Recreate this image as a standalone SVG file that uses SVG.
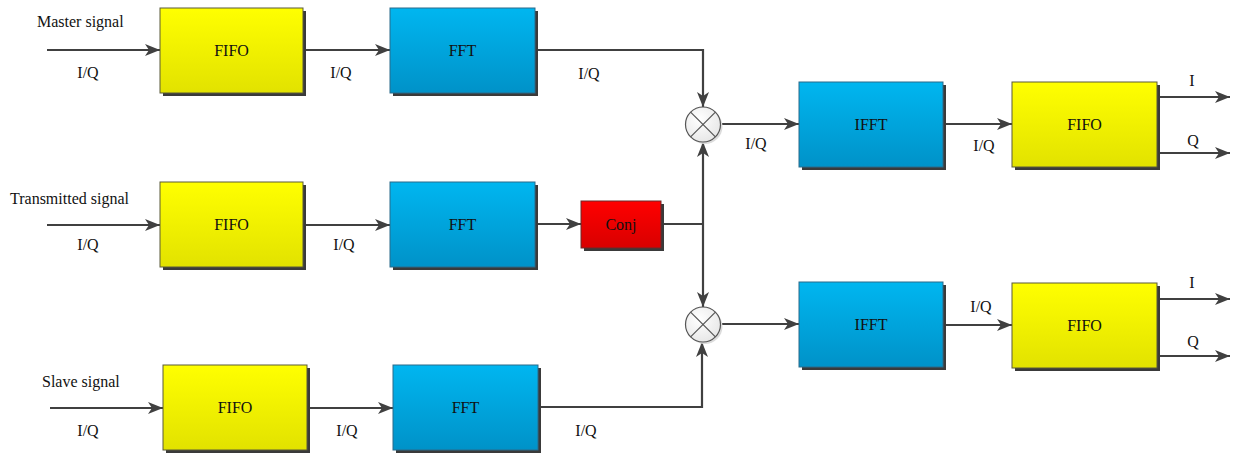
<svg xmlns="http://www.w3.org/2000/svg" width="1236" height="454" viewBox="0 0 1236 454">
  <defs>
    <linearGradient id="gYellow" x1="0" y1="0" x2="0" y2="1">
      <stop offset="0" stop-color="#ffff00"/>
      <stop offset="1" stop-color="#e2e200"/>
    </linearGradient>
    <linearGradient id="gBlue" x1="0" y1="0" x2="0" y2="1">
      <stop offset="0" stop-color="#00b6f0"/>
      <stop offset="1" stop-color="#0092c8"/>
    </linearGradient>
    <linearGradient id="gRed" x1="0" y1="0" x2="0" y2="1">
      <stop offset="0" stop-color="#ff0000"/>
      <stop offset="1" stop-color="#d80000"/>
    </linearGradient>
    <radialGradient id="gMix" cx="0.4" cy="0.35" r="0.7">
      <stop offset="0" stop-color="#ffffff"/>
      <stop offset="1" stop-color="#e6e6e6"/>
    </radialGradient>
    <marker id="arr" markerWidth="16" markerHeight="12" refX="15" refY="6" orient="auto" markerUnits="userSpaceOnUse">
      <path d="M0,0 L15,6 L0,12 L4,6 Z" fill="#404040"/>
    </marker>
  </defs>
  <style>
    text { font-family: "Liberation Serif", "Times New Roman", serif; font-size: 16px; fill: #111; }
    .c { text-anchor: middle; }
    .box { stroke: #5a5a3a; stroke-width: 1; }
    .bbox { stroke: #2a6a8a; stroke-width: 1; }
    .shadow { fill: #3a3a3a; }
    .wire { fill: none; stroke: #404040; stroke-width: 2.2; }
    .mix { fill: url(#gMix); stroke: #555; stroke-width: 1.2; }
    .x { stroke: #555; stroke-width: 1.2; }
  </style>

  <!-- input labels -->
  <text x="37" y="27">Master signal</text>
  <text x="10" y="204">Transmitted signal</text>
  <text x="42" y="387">Slave signal</text>

  <!-- connectors -->
  <g id="connectors">
    <path class="wire" d="M47,50 H160" marker-end="url(#arr)"/>
    <path class="wire" d="M303,50 H390" marker-end="url(#arr)"/>
    <path class="wire" d="M535,50 H703 V107" marker-end="url(#arr)"/>

    <path class="wire" d="M47,225 H160" marker-end="url(#arr)"/>
    <path class="wire" d="M303,225 H390" marker-end="url(#arr)"/>
    <path class="wire" d="M535,224 H581" marker-end="url(#arr)"/>
    <path class="wire" d="M661,224 H703"/>
    <path class="wire" d="M703,224 V142" marker-end="url(#arr)"/>
    <path class="wire" d="M703,224 V307" marker-end="url(#arr)"/>

    <path class="wire" d="M50,408 H163" marker-end="url(#arr)"/>
    <path class="wire" d="M307,408 H393" marker-end="url(#arr)"/>
    <path class="wire" d="M538,407 H702 V342" marker-end="url(#arr)"/>

    <path class="wire" d="M720,124 H799" marker-end="url(#arr)"/>
    <path class="wire" d="M943,124 H1012" marker-end="url(#arr)"/>
    <path class="wire" d="M1157,97 H1230" marker-end="url(#arr)"/>
    <path class="wire" d="M1157,153 H1230" marker-end="url(#arr)"/>

    <path class="wire" d="M720,324 H799" marker-end="url(#arr)"/>
    <path class="wire" d="M943,325 H1012" marker-end="url(#arr)"/>
    <path class="wire" d="M1157,299 H1230" marker-end="url(#arr)"/>
    <path class="wire" d="M1157,356 H1230" marker-end="url(#arr)"/>
  </g>

  <!-- connector labels -->
  <g id="labels">
    <text class="c" x="88" y="78">I/Q</text>
    <text class="c" x="341" y="78">I/Q</text>
    <text class="c" x="589" y="79">I/Q</text>
    <text class="c" x="88" y="250">I/Q</text>
    <text class="c" x="344" y="250">I/Q</text>
    <text class="c" x="88" y="436">I/Q</text>
    <text class="c" x="347" y="436">I/Q</text>
    <text class="c" x="586" y="436">I/Q</text>
    <text class="c" x="756" y="149">I/Q</text>
    <text class="c" x="984" y="151">I/Q</text>
    <text class="c" x="981" y="312">I/Q</text>
    <text class="c" x="1192" y="86">I</text>
    <text class="c" x="1193" y="146">Q</text>
    <text class="c" x="1192" y="288">I</text>
    <text class="c" x="1193" y="347">Q</text>
  </g>

  <!-- row 1 -->
  <g id="fifo1">
    <rect class="shadow" x="163" y="11" width="143" height="85"/>
    <rect class="box" x="160" y="8" width="143" height="85" fill="url(#gYellow)"/>
    <text class="c" x="231.5" y="56">FIFO</text>
  </g>
  <g id="fft1">
    <rect class="shadow" x="393" y="11" width="145" height="85"/>
    <rect class="bbox" x="390" y="8" width="145" height="85" fill="url(#gBlue)"/>
    <text class="c" x="462.5" y="56">FFT</text>
  </g>

  <!-- row 2 -->
  <g id="fifo2">
    <rect class="shadow" x="163" y="185" width="143" height="85"/>
    <rect class="box" x="160" y="182" width="143" height="85" fill="url(#gYellow)"/>
    <text class="c" x="231.5" y="230">FIFO</text>
  </g>
  <g id="fft2">
    <rect class="shadow" x="393" y="185" width="145" height="85"/>
    <rect class="bbox" x="390" y="182" width="145" height="85" fill="url(#gBlue)"/>
    <text class="c" x="462.5" y="230">FFT</text>
  </g>
  <g id="conj">
    <rect class="shadow" x="584" y="204" width="80" height="47"/>
    <rect x="581" y="201" width="80" height="47" fill="url(#gRed)" stroke="#6a2a2a" stroke-width="1"/>
    <text class="c" x="621" y="230">Conj</text>
  </g>

  <!-- row 3 -->
  <g id="fifo3">
    <rect class="shadow" x="166" y="368" width="144" height="85"/>
    <rect class="box" x="163" y="365" width="144" height="85" fill="url(#gYellow)"/>
    <text class="c" x="235" y="413">FIFO</text>
  </g>
  <g id="fft3">
    <rect class="shadow" x="396" y="368" width="145" height="85"/>
    <rect class="bbox" x="393" y="365" width="145" height="85" fill="url(#gBlue)"/>
    <text class="c" x="465.5" y="413">FFT</text>
  </g>

  <!-- multipliers -->
  <g id="mixer1">
    <circle cx="705" cy="126.5" r="17.5" fill="#dcdcdc"/>
    <circle class="mix" cx="703" cy="124.5" r="17.5"/>
    <line class="x" x1="690.6" y1="112.1" x2="715.4" y2="136.9"/>
    <line class="x" x1="715.4" y1="112.1" x2="690.6" y2="136.9"/>
  </g>
  <g id="mixer2">
    <circle cx="705" cy="326.5" r="17.5" fill="#dcdcdc"/>
    <circle class="mix" cx="703" cy="324.5" r="17.5"/>
    <line class="x" x1="690.6" y1="312.1" x2="715.4" y2="336.9"/>
    <line class="x" x1="715.4" y1="312.1" x2="690.6" y2="336.9"/>
  </g>

  <!-- output stage, upper -->
  <g id="ifft1">
    <rect class="shadow" x="802" y="85" width="144" height="85"/>
    <rect class="bbox" x="799" y="82" width="144" height="85" fill="url(#gBlue)"/>
    <text class="c" x="871" y="130">IFFT</text>
  </g>
  <g id="fifo4">
    <rect class="shadow" x="1015" y="85" width="145" height="85"/>
    <rect class="box" x="1012" y="82" width="145" height="85" fill="url(#gYellow)"/>
    <text class="c" x="1084.5" y="130">FIFO</text>
  </g>

  <!-- output stage, lower -->
  <g id="ifft2">
    <rect class="shadow" x="802" y="285" width="144" height="85"/>
    <rect class="bbox" x="799" y="282" width="144" height="85" fill="url(#gBlue)"/>
    <text class="c" x="871" y="330">IFFT</text>
  </g>
  <g id="fifo5">
    <rect class="shadow" x="1015" y="286" width="145" height="85"/>
    <rect class="box" x="1012" y="283" width="145" height="85" fill="url(#gYellow)"/>
    <text class="c" x="1084.5" y="331">FIFO</text>
  </g>
</svg>
